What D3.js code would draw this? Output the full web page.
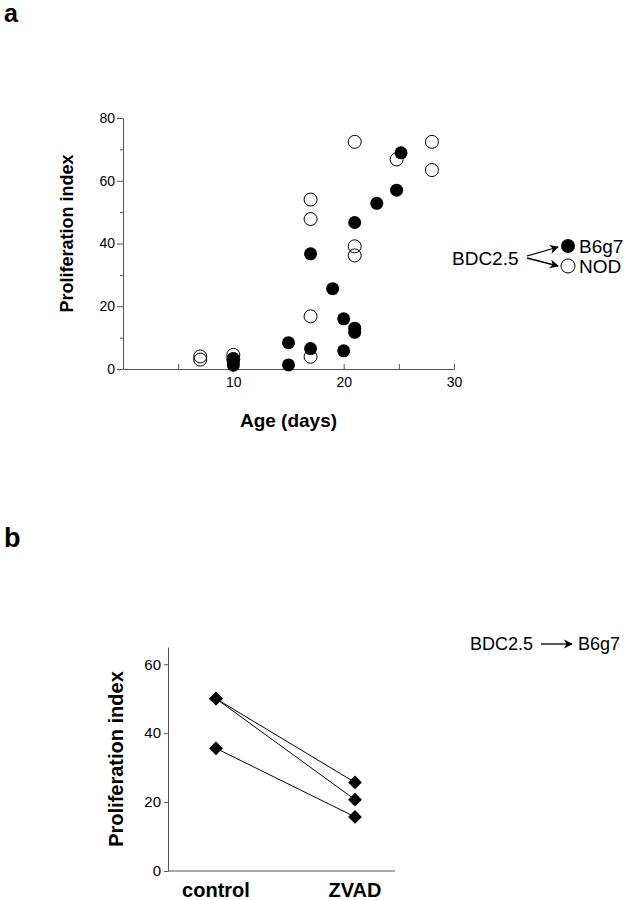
<!DOCTYPE html>
<html><head><meta charset="utf-8">
<script src="https://cdn.jsdelivr.net/npm/d3@7"></script>
<style>html,body{margin:0;padding:0;background:#fff;}svg{display:block;font-family:"Liberation Sans",Arial,sans-serif;}</style>
</head><body>
<script>
// Panel a data
const nodAge = [7, 7, 10, 10, 17, 17, 17, 17, 21, 21, 21, 24.8, 28, 28];
const nodIndex = [4.0, 3.0, 4.5, 3.2, 54.0, 47.8, 16.8, 3.9, 72.4, 39.1, 36.2, 66.8, 72.4, 63.4];
const b6g7Age = [10, 10, 10, 15, 15, 17, 17, 19, 20, 20, 21, 21, 21, 23, 24.8, 25.2];
const b6g7Index = [1.2, 2.2, 3.2, 8.4, 1.3, 36.7, 6.5, 25.6, 16.0, 5.8, 46.7, 13.0, 11.7, 52.8, 57.0, 68.9];
const xTicksA = [5, 10, 15, 20, 25, 30];
const yTicksA = [0, 10, 20, 30, 40, 50, 60, 70, 80];
// Panel b data
const treatments = ["control", "ZVAD"];
const controlIndex = [50.0, 50.0, 35.6];
const zvadIndex = [25.7, 20.7, 15.7];
const yTicksB = [0, 20, 40, 60];

const svg = d3.select("body").append("svg").attr("width", 636).attr("height", 900);
const axisColor = "#555";
const FONT = "Liberation Sans, Arial, sans-serif";

// panel labels
svg.append("text").attr("x", 4).attr("y", 22).attr("font-size", 25).attr("font-weight", "bold").text("a");
svg.append("text").attr("x", 4).attr("y", 547).attr("font-size", 27).attr("font-weight", "bold").text("b");

// ---------- Panel a ----------
const xA = d3.scaleLinear().domain([0, 30]).range([123, 454]);
const yA = d3.scaleLinear().domain([0, 80]).range([369, 118]);
const ga = svg.append("g");

ga.append("g").attr("transform", `translate(${xA(0)},0)`)
  .call(d3.axisLeft(yA).tickValues(yTicksA.filter(v => v % 20 !== 0)).tickSize(3).tickFormat(""))
  .call(g => g.select(".domain").remove());
ga.append("g").attr("transform", `translate(${xA(0)},0)`)
  .call(d3.axisLeft(yA).tickValues(yTicksA.filter(v => v % 20 === 0)).tickSize(6).tickSizeOuter(0).tickPadding(2))
  .call(g => g.selectAll("text").attr("font-size", 14).attr("fill", "#000").attr("font-family", FONT));
ga.append("g").attr("transform", `translate(0,${yA(0)})`)
  .call(d3.axisBottom(xA).tickValues(xTicksA).tickSize(-5).tickSizeOuter(0).tickPadding(8)
    .tickFormat(d => d % 10 === 0 ? d : ""))
  .call(g => g.selectAll("text").attr("font-size", 14).attr("fill", "#000").attr("font-family", FONT));
ga.selectAll(".domain, .tick line").attr("stroke", axisColor);

ga.append("text").attr("transform", `translate(73,${(yA(0) + yA(80)) / 2 - 10}) rotate(-90)`)
  .attr("text-anchor", "middle").attr("font-size", 18).attr("font-weight", "bold").text("Proliferation index");
ga.append("text").attr("x", (xA(0) + xA(30)) / 2).attr("y", 427)
  .attr("text-anchor", "middle").attr("font-size", 19).attr("font-weight", "bold").text("Age (days)");

const r = 6.5;
ga.selectAll("circle.nod").data(nodAge.map((a, i) => [a, nodIndex[i]])).enter()
  .append("circle").attr("class", "nod").attr("cx", d => xA(d[0])).attr("cy", d => yA(d[1])).attr("r", r)
  .attr("fill", "none").attr("stroke", "#000").attr("stroke-width", 1);
ga.selectAll("circle.b6").data(b6g7Age.map((a, i) => [a, b6g7Index[i]])).enter()
  .append("circle").attr("class", "b6").attr("cx", d => xA(d[0])).attr("cy", d => yA(d[1])).attr("r", r)
  .attr("fill", "#000");

const defs = svg.append("defs");
defs.append("marker").attr("id", "arr").attr("viewBox", "0 0 10 10").attr("refX", 9).attr("refY", 5)
  .attr("markerWidth", 7).attr("markerHeight", 7).attr("orient", "auto")
  .append("path").attr("d", "M0,0 L10,5 L0,10 L3,5 Z").attr("fill", "#000");

// legend a
const la = svg.append("g");
la.append("text").attr("x", 452).attr("y", 265).attr("font-size", 19).text("BDC2.5");
la.append("line").attr("x1", 527).attr("y1", 256).attr("x2", 558).attr("y2", 247)
  .attr("stroke", "#000").attr("stroke-width", 1.3).attr("marker-end", "url(#arr)");
la.append("line").attr("x1", 527).attr("y1", 258).attr("x2", 558).attr("y2", 266)
  .attr("stroke", "#000").attr("stroke-width", 1.3).attr("marker-end", "url(#arr)");
la.append("circle").attr("cx", 568).attr("cy", 246).attr("r", 7).attr("fill", "#000");
la.append("circle").attr("cx", 568).attr("cy", 266).attr("r", 7).attr("fill", "none").attr("stroke", "#000");
la.append("text").attr("x", 579).attr("y", 253).attr("font-size", 19).text("B6g7");
la.append("text").attr("x", 579).attr("y", 273).attr("font-size", 19).text("NOD");

// ---------- Panel b ----------
const xB = d3.scalePoint().domain(treatments).range([216, 355]);
const yB = d3.scaleLinear().domain([0, 65]).range([871, 647]);
const gb = svg.append("g");
gb.append("g").attr("transform", "translate(168,0)")
  .call(d3.axisLeft(yB).tickValues(yTicksB).tickSize(4).tickSizeOuter(0).tickPadding(3))
  .call(g => g.selectAll("text").attr("font-size", 15).attr("fill", "#000").attr("font-family", FONT));
gb.append("line").attr("x1", 168).attr("x2", 395).attr("y1", yB(0)).attr("y2", yB(0)).attr("stroke", axisColor);
gb.selectAll(".domain, .tick line").attr("stroke", axisColor);
gb.selectAll("text.cat").data(treatments).enter().append("text").attr("class", "cat")
  .attr("x", d => xB(d)).attr("y", 897).attr("text-anchor", "middle")
  .attr("font-size", 20).attr("font-weight", "bold").text(d => d);
gb.append("text").attr("transform", `translate(123,${(yB(0) + yB(65)) / 2}) rotate(-90)`)
  .attr("text-anchor", "middle").attr("font-size", 20).attr("font-weight", "bold").text("Proliferation index");

const pairs = controlIndex.map((c, i) => [c, zvadIndex[i]]);
gb.selectAll("line.pair").data(pairs).enter().append("line").attr("class", "pair")
  .attr("x1", xB("control")).attr("y1", d => yB(d[0])).attr("x2", xB("ZVAD")).attr("y2", d => yB(d[1]))
  .attr("stroke", "#000").attr("stroke-width", 1);
const diamond = d3.symbol(d3.symbolSquare, 95);
const pts = [];
pairs.forEach(p => { pts.push(["control", p[0]]); pts.push(["ZVAD", p[1]]); });
gb.selectAll("path.pt").data(pts).enter().append("path").attr("class", "pt")
  .attr("d", diamond).attr("transform", d => `translate(${xB(d[0])},${yB(d[1])}) rotate(45)`).attr("fill", "#000");

// legend b
const lb = svg.append("g");
lb.append("text").attr("x", 470).attr("y", 650).attr("font-size", 18).text("BDC2.5");
lb.append("line").attr("x1", 541).attr("y1", 644).attr("x2", 572).attr("y2", 644)
  .attr("stroke", "#000").attr("stroke-width", 1.3).attr("marker-end", "url(#arr)");
lb.append("text").attr("x", 578).attr("y", 650).attr("font-size", 18).text("B6g7");
</script>
</body></html>
